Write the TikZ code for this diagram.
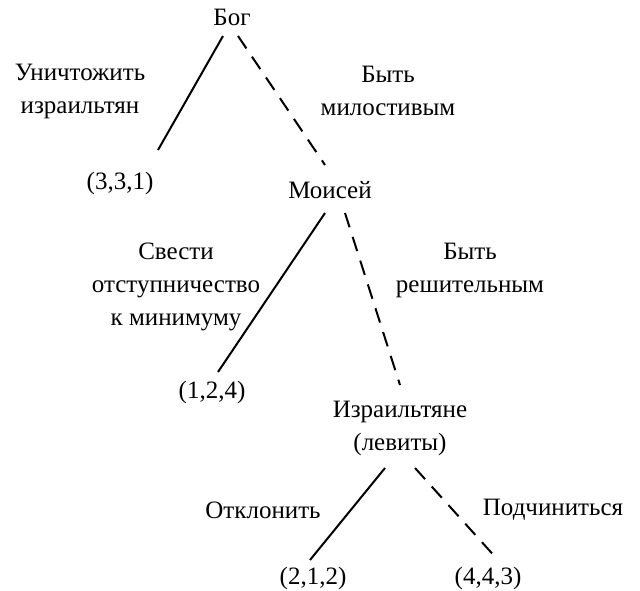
\documentclass[tikz,border=0pt]{standalone}
\usepackage{fontspec}
\setmainfont{Liberation Serif}
\begin{document}
\begin{tikzpicture}[x=1pt,y=-1pt,
  lbl/.style={font=\fontsize{25}{33}\selectfont,align=center,inner sep=1pt},
  act/.style={line width=2pt},
  dsh/.style={line width=2pt,dash pattern=on 15pt off 10pt}]
\useasboundingbox (0,0) rectangle (640,591);
\node[lbl] (g) at (232,17) {Бог};
\node[lbl] (p1) at (120,183) {(3,3,1)};
\node[lbl] (m) at (330,190) {Моисей};
\node[lbl] (p2) at (212,392) {(1,2,4)};
\node[lbl] (i) at (400,428) {Израильтяне\\(левиты)};
\node[lbl] (p3) at (313,578) {(2,1,2)};
\node[lbl] (p4) at (488,578) {(4,4,3)};
\coordinate (a1) at (223,36); \coordinate (b1) at (158,150);
\coordinate (a2) at (238,36); \coordinate (b2) at (325,165);
\coordinate (a3) at (325,213); \coordinate (b3) at (218,372);
\coordinate (a4) at (345,213); \coordinate (b4) at (400,385);
\coordinate (a5) at (385,468); \coordinate (b5) at (310,560);
\coordinate (a6) at (415,468); \coordinate (b6) at (498,560);
\draw[act] (a1) -- (b1);
\draw[dsh] (a2) -- (b2);
\draw[act] (a3) -- (b3);
\draw[dsh] (a4) -- (b4);
\draw[act] (a5) -- (b5);
\draw[dsh] (a6) -- (b6);
\node[lbl] (l1) at (80,91) {Уничтожить\\израильтян};
\node[lbl] (l2) at (388,91) {Быть\\милостивым};
\node[lbl] (l3) at (176,287) {Свести\\отступничество\\к минимуму};
\node[lbl] (l4) at (470,270) {Быть\\решительным};
\node[lbl] (l5) at (263,510) {Отклонить};
\node[lbl] (l6) at (553,510) {Подчиниться};
\end{tikzpicture}
\end{document}
